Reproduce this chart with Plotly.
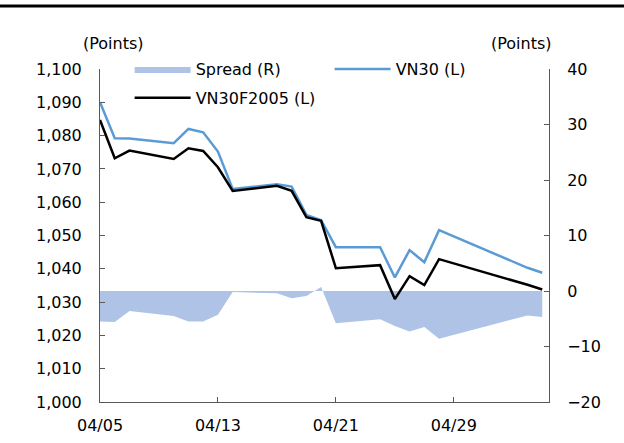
import plotly.graph_objects as go

dates = ["2023-04-05", "2023-04-06", "2023-04-07", "2023-04-10", "2023-04-11",
         "2023-04-12", "2023-04-13", "2023-04-14", "2023-04-17", "2023-04-18",
         "2023-04-19", "2023-04-20", "2023-04-21", "2023-04-24", "2023-04-25",
         "2023-04-26", "2023-04-27", "2023-04-28", "2023-05-04", "2023-05-05"]

vn30 = [1090.0, 1079.2, 1079.1, 1077.7, 1082.0, 1081.0, 1075.2, 1064.0, 1065.4, 1064.7,
        1056.2, 1054.6, 1046.5, 1046.5, 1037.4, 1045.6, 1042.0, 1051.6, 1040.3, 1038.8]

vn30f = [1084.7, 1073.2, 1075.5, 1073.0, 1076.2, 1075.4, 1070.5, 1063.4, 1064.9, 1063.4,
         1055.5, 1054.4, 1040.2, 1041.1, 1030.9, 1037.8, 1035.1, 1042.9, 1035.2, 1033.8]

spread = [-5.5, -5.6, -3.6, -4.5, -5.5, -5.5, -4.3, -0.2, -0.4, -1.3,
          -0.9, 0.7, -5.8, -5.1, -6.3, -7.3, -6.5, -8.6, -4.4, -4.7]

left_ticks = [1000, 1010, 1020, 1030, 1040, 1050, 1060, 1070, 1080, 1090, 1100]
right_ticks = [-20, -10, 0, 10, 20, 30, 40]

FONT = "DejaVu Sans"
AXC = "#595959"

fig = go.Figure()
# Spread on the base axis (right side) so that the index lines, on the
# overlaying left axis, are drawn on top of the area.
fig.add_trace(go.Scatter(
    x=dates, y=spread, name="Spread (R)", yaxis="y", mode="lines",
    fill="tozeroy", fillcolor="#AFC3E6", line=dict(width=0, color="#AFC3E6"),
    legend="legend"))
fig.add_trace(go.Scatter(
    x=dates, y=vn30, name="VN30 (L)", yaxis="y2", mode="lines",
    line=dict(color="#5B9BD5", width=2.5), legend="legend"))
fig.add_trace(go.Scatter(
    x=dates, y=vn30f, name="VN30F2005 (L)", yaxis="y2", mode="lines",
    line=dict(color="#000000", width=2.5), legend="legend2"))

fig.update_layout(
    width=624, height=443,
    margin=dict(l=100, r=75, t=69, b=41, autoexpand=False),
    paper_bgcolor="white", plot_bgcolor="white",
    font=dict(family=FONT, size=16, color="#000000"),
    showlegend=True,
    xaxis=dict(
        type="date", range=["2023-04-05", "2023-05-05 11:00"],
        tick0="2023-04-05", dtick=8 * 86400000, tickformat="%m/%d",
        ticks="inside", ticklen=5, tickcolor=AXC, showline=True, linecolor=AXC,
        linewidth=1, showgrid=False, zeroline=False, ticklabelstandoff=9),
    yaxis=dict(
        range=[-20, 40], tickvals=right_ticks, side="right",
        ticks="inside", ticklen=5, tickcolor=AXC, showline=True, linecolor=AXC,
        linewidth=1, showgrid=False, zeroline=False, ticklabelstandoff=14),
    yaxis2=dict(
        range=[1000, 1100], tickvals=left_ticks, tickformat=",d",
        overlaying="y", side="left",
        ticks="inside", ticklen=5, tickcolor=AXC, showline=True, linecolor=AXC,
        linewidth=1, showgrid=False, zeroline=False, ticklabelstandoff=14),
    legend=dict(
        orientation="h", x=0.066, xanchor="left", y=1.0, yanchor="middle",
        itemwidth=56, entrywidth=129, entrywidthmode="pixels",
        bgcolor="rgba(0,0,0,0)", font=dict(family=FONT, size=16), traceorder="normal"),
    legend2=dict(
        orientation="h", x=0.066, xanchor="left", y=0.913, yanchor="middle",
        itemwidth=56, bgcolor="rgba(0,0,0,0)", font=dict(family=FONT, size=16)),
    shapes=[dict(type="line", xref="paper", yref="paper",
                 x0=-0.223, x1=1.167, y0=1.189, y1=1.189,
                 line=dict(color="black", width=3))],
    annotations=[
        dict(text="(Points)", xref="paper", yref="paper", x=0.029, y=1.078,
             xanchor="center", yanchor="middle", showarrow=False),
        dict(text="(Points)", xref="paper", yref="paper", x=0.938, y=1.078,
             xanchor="center", yanchor="middle", showarrow=False),
    ],
)

fig.write_html("out.html", config={"displayModeBar": False},
               post_script="document.body.style.margin='0px';")
